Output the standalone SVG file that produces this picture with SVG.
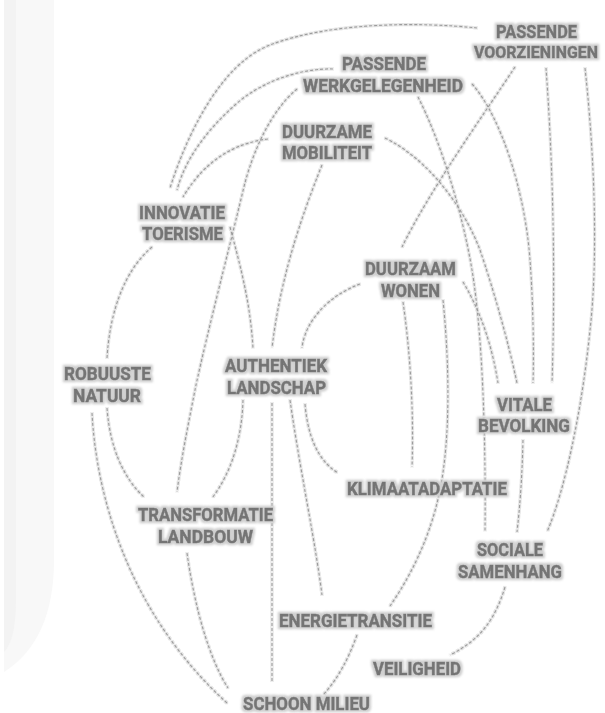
<svg xmlns="http://www.w3.org/2000/svg" width="605" height="713" viewBox="0 0 605 713">
<defs>
<filter id="halo" x="-10%" y="-30%" width="120%" height="160%">
<feMorphology in="SourceAlpha" operator="dilate" radius="1.6" result="d"/>
<feGaussianBlur in="d" stdDeviation="0.9" result="b"/>
<feFlood flood-color="#cfcfcf" result="f"/>
<feComposite in="f" in2="b" operator="in" result="h"/>
<feMerge><feMergeNode in="h"/><feMergeNode in="SourceGraphic"/></feMerge>
</filter>
<filter id="lhalo" x="-5%" y="-5%" width="110%" height="110%">
<feMorphology in="SourceAlpha" operator="dilate" radius="1" result="d"/>
<feGaussianBlur in="d" stdDeviation="0.7" result="b"/>
<feFlood flood-color="#e2e2e2" result="f"/>
<feComposite in="f" in2="b" operator="in" result="h"/>
<feMerge><feMergeNode in="h"/><feMergeNode in="SourceGraphic"/></feMerge>
</filter>
</defs>
<style>
.lbl{font-family:Roboto,"Liberation Sans",Arial,sans-serif;font-weight:700;font-size:18px;fill:#747474;stroke:#747474;stroke-width:0.5;text-anchor:middle}
.c path{fill:none;stroke:#9c9c9c;stroke-width:1.2;stroke-dasharray:3 2}
</style>
<rect width="605" height="713" fill="#ffffff"/>
<path d="M4,0 H54 V560 Q54,640 4,672 Z" fill="#f8f8f8"/>
<path d="M4,0 H16 V600 Q16,640 4,652 Z" fill="#f3f3f3"/>

<g id="connectors" class="c" filter="url(#lhalo)">
<path d="M477,28 C420,22 330,22 270,45 C225,62 190,125 170,188"/>
<path d="M333,69 C300,68 260,82 235,105 C205,132 185,160 177,190"/>
<path d="M268,139 C235,143 205,160 183,197"/>
<path d="M297,89 C272,110 252,150 242,195 C230,245 208,330 196,385 C189,420 181,460 177,492"/>
<path d="M230,227 C240,265 250,300 253,348"/>
<path d="M322,165 C300,220 280,280 272,348"/>
<path d="M360,284 C330,295 305,320 302,348"/>
<path d="M152,247 C125,270 110,310 107,358"/>
<path d="M92,413 C96,490 125,610 227,703"/>
<path d="M107,408 C110,450 125,480 145,498"/>
<path d="M243,400 C242,440 230,475 212,498"/>
<path d="M272,403 L272,683"/>
<path d="M290,400 C300,470 315,540 322,595"/>
<path d="M305,404 C308,440 320,462 338,473"/>
<path d="M403,302 C410,350 414,410 412,467"/>
<path d="M443,300 C450,370 450,440 440,490 C430,540 408,580 390,606"/>
<path d="M515,67 C480,120 430,190 402,247"/>
<path d="M385,138 C430,160 465,210 480,250 C492,285 508,340 517,383"/>
<path d="M418,97 C440,140 462,210 472,270 C482,330 486,430 485,532"/>
<path d="M472,84 C500,115 525,190 530,260 C533,300 534,350 533,383"/>
<path d="M546,68 C552,150 556,260 552,383"/>
<path d="M585,68 C595,160 598,260 590,330 C582,410 565,490 547,532"/>
<path d="M463,282 C480,310 492,345 498,383"/>
<path d="M523,440 C522,480 520,505 517,532"/>
<path d="M505,587 C495,620 480,640 450,655"/>
<path d="M187,553 C195,610 210,660 228,688"/>
<path d="M357,635 C348,660 337,680 323,695"/>
</g>

<g id="passende-voorzieningen" filter="url(#halo)">
<text class="lbl" x="536.5" y="37.5" textLength="81" lengthAdjust="spacingAndGlyphs">PASSENDE</text>
<text class="lbl" x="536" y="57.5" style="font-size:16.5px" textLength="124" lengthAdjust="spacingAndGlyphs">VOORZIENINGEN</text>
</g>
<g id="passende-werkgelegenheid" filter="url(#halo)">
<text class="lbl" x="384" y="69.5" textLength="84" lengthAdjust="spacingAndGlyphs">PASSENDE</text>
<text class="lbl" x="383" y="91.5" textLength="160" lengthAdjust="spacingAndGlyphs">WERKGELEGENHEID</text>
</g>
<g id="duurzame-mobiliteit" filter="url(#halo)">
<text class="lbl" x="327" y="137.5" textLength="90" lengthAdjust="spacingAndGlyphs">DUURZAME</text>
<text class="lbl" x="327" y="158.5" textLength="90" lengthAdjust="spacingAndGlyphs">MOBILITEIT</text>
</g>
<g id="innovatie-toerisme" filter="url(#halo)">
<text class="lbl" x="182" y="218.5" textLength="86" lengthAdjust="spacingAndGlyphs">INNOVATIE</text>
<text class="lbl" x="182.5" y="239.5" textLength="81" lengthAdjust="spacingAndGlyphs">TOERISME</text>
</g>
<g id="duurzaam-wonen" filter="url(#halo)">
<text class="lbl" x="410.5" y="274.5" textLength="91" lengthAdjust="spacingAndGlyphs">DUURZAAM</text>
<text class="lbl" x="410.5" y="296.5" textLength="59" lengthAdjust="spacingAndGlyphs">WONEN</text>
</g>
<g id="robuuste-natuur" filter="url(#halo)">
<text class="lbl" x="107.5" y="379.5" textLength="87" lengthAdjust="spacingAndGlyphs">ROBUUSTE</text>
<text class="lbl" x="107" y="401.5" textLength="68" lengthAdjust="spacingAndGlyphs">NATUUR</text>
</g>
<g id="authentiek-landschap" filter="url(#halo)">
<text class="lbl" x="276" y="371.5" textLength="102" lengthAdjust="spacingAndGlyphs">AUTHENTIEK</text>
<text class="lbl" x="276.5" y="393.5" textLength="99" lengthAdjust="spacingAndGlyphs">LANDSCHAP</text>
</g>
<g id="vitale-bevolking" filter="url(#halo)">
<text class="lbl" x="524.5" y="410.5" textLength="55" lengthAdjust="spacingAndGlyphs">VITALE</text>
<text class="lbl" x="524" y="431.5" textLength="92" lengthAdjust="spacingAndGlyphs">BEVOLKING</text>
</g>
<g id="klimaatadaptatie" filter="url(#halo)">
<text class="lbl" x="427" y="494.5" textLength="160" lengthAdjust="spacingAndGlyphs">KLIMAATADAPTATIE</text>
</g>
<g id="transformatie-landbouw" filter="url(#halo)">
<text class="lbl" x="205.5" y="520.5" textLength="135" lengthAdjust="spacingAndGlyphs">TRANSFORMATIE</text>
<text class="lbl" x="205.5" y="542.5" textLength="95" lengthAdjust="spacingAndGlyphs">LANDBOUW</text>
</g>
<g id="sociale-samenhang" filter="url(#halo)">
<text class="lbl" x="510" y="555.5" textLength="66" lengthAdjust="spacingAndGlyphs">SOCIALE</text>
<text class="lbl" x="510" y="577.5" textLength="104" lengthAdjust="spacingAndGlyphs">SAMENHANG</text>
</g>
<g id="energietransitie" filter="url(#halo)">
<text class="lbl" x="355.5" y="626.5" textLength="153" lengthAdjust="spacingAndGlyphs">ENERGIETRANSITIE</text>
</g>
<g id="veiligheid" filter="url(#halo)">
<text class="lbl" x="417" y="674.5" textLength="88" lengthAdjust="spacingAndGlyphs">VEILIGHEID</text>
</g>
<g id="schoon-milieu" filter="url(#halo)">
<text class="lbl" x="306.5" y="709.5" textLength="127" lengthAdjust="spacingAndGlyphs">SCHOON MILIEU</text>
</g>
</svg>
